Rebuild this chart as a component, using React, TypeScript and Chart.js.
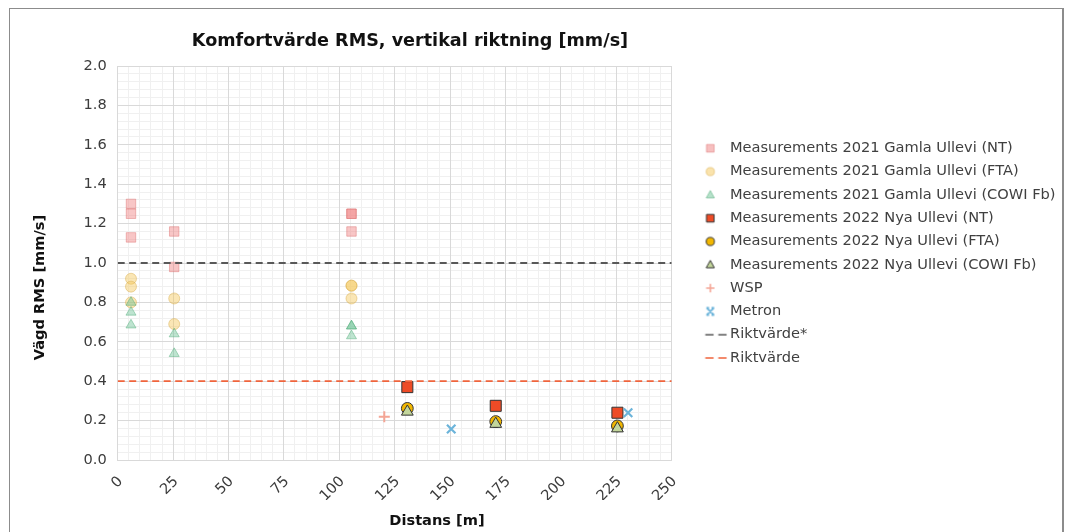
import React, { useEffect, useRef } from 'react';
import { Chart, registerables } from 'chart.js';

Chart.register(...registerables);

// ---------- text ----------
const chartTitle = 'Komfortvärde RMS, vertikal riktning [mm/s]';
const xAxisTitle = 'Distans [m]';
const yAxisTitle = 'Vägd RMS [mm/s]';

const seriesNames = [
  'Measurements 2021 Gamla Ullevi (NT)',
  'Measurements 2021 Gamla Ullevi (FTA)',
  'Measurements 2021 Gamla Ullevi (COWI Fb)',
  'Measurements 2022 Nya Ullevi (NT)',
  'Measurements 2022 Nya Ullevi (FTA)',
  'Measurements 2022 Nya Ullevi (COWI Fb)',
  'WSP',
  'Metron',
  'Riktvärde*',
  'Riktvärde',
];

// ---------- data ----------
const gamlaDistans = [6, 6, 6, 25.5, 25.5, 105.5, 105.5, 105.5];
const gamlaNT = [1.3, 1.25, 1.13, 1.16, 0.98, 1.25, 1.25, 1.16];
const gamlaFTA = [0.92, 0.88, 0.8, 0.82, 0.69, 0.885, 0.885, 0.82];
const gamlaCOWI = [0.8, 0.75, 0.685, 0.64, 0.54, 0.68, 0.68, 0.63];

const nyaDistans = [130.7, 170.6, 225.5];
const nyaNT = [0.37, 0.275, 0.24];
const nyaFTA = [0.262, 0.195, 0.173];
const nyaCOWI = [0.245, 0.183, 0.16];

const wspDistans = [120.3];
const wspValues = [0.22];

const metronDistans = [150.5, 230.3];
const metronValues = [0.157, 0.24];

const riktvardeStar = 1.0;
const riktvarde = 0.4;

// ---------- axes ----------
const xMin = 0;
const xMax = 250;
const xStep = 25;
const xMinorStep = 5;
const yMin = 0;
const yMax = 2.0;
const yStep = 0.2;
const yMinorStep = 0.04;

const FONT = "'DejaVu Sans', Verdana, sans-serif";
const FS = 14.6;

const pts = (xs: number[], ys: number[]) => xs.map((x, i) => ({ x, y: ys[i] }));

type IconSpec = {
  kind: 'rect' | 'circle' | 'triangle' | 'cross' | 'crossRot' | 'dash';
  fill?: string;
  stroke: string;
  lw: number;
};

function makeIcon(spec: IconSpec): HTMLCanvasElement {
  const c = document.createElement('canvas');
  c.width = 60;
  c.height = 16;
  const ctx = c.getContext('2d')!;
  const cx = 38.75;
  const cy = 8;
  ctx.lineWidth = spec.lw;
  ctx.strokeStyle = spec.stroke;
  if (spec.fill) ctx.fillStyle = spec.fill;
  ctx.beginPath();
  switch (spec.kind) {
    case 'rect':
      ctx.rect(cx - 3.8, cy - 3.8, 7.6, 7.6);
      break;
    case 'circle':
      ctx.arc(cx, cy, 4.1, 0, Math.PI * 2);
      break;
    case 'triangle':
      ctx.moveTo(cx, cy - 4.4);
      ctx.lineTo(cx + 4.1, cy + 3);
      ctx.lineTo(cx - 4.1, cy + 3);
      ctx.closePath();
      break;
    case 'cross':
      ctx.moveTo(cx - 4.2, cy);
      ctx.lineTo(cx + 4.2, cy);
      ctx.moveTo(cx, cy - 4.2);
      ctx.lineTo(cx, cy + 4.2);
      break;
    case 'crossRot':
      ctx.moveTo(cx - 3.7, cy - 3.7);
      ctx.lineTo(cx + 3.7, cy + 3.7);
      ctx.moveTo(cx + 3.7, cy - 3.7);
      ctx.lineTo(cx - 3.7, cy + 3.7);
      ctx.moveTo(cx - 3.9, cy - 3.7);
      ctx.lineTo(cx - 1.2, cy - 3.7);
      ctx.moveTo(cx + 1.2, cy - 3.7);
      ctx.lineTo(cx + 3.9, cy - 3.7);
      ctx.moveTo(cx - 3.9, cy + 3.7);
      ctx.lineTo(cx - 1.2, cy + 3.7);
      ctx.moveTo(cx + 1.2, cy + 3.7);
      ctx.lineTo(cx + 3.9, cy + 3.7);
      break;
    case 'dash':
      ctx.setLineDash([8.3, 4.7]);
      ctx.moveTo(cx - 5, cy);
      ctx.lineTo(cx + 16.5, cy);
      break;
  }
  if (spec.fill && spec.kind !== 'dash') ctx.fill();
  ctx.stroke();
  return c;
}

const titlesPlugin = {
  id: 'customTitles',
  afterDraw(chart: any) {
    const { ctx, chartArea: a } = chart;
    ctx.save();
    ctx.textAlign = 'center';
    ctx.textBaseline = 'middle';
    ctx.fillStyle = '#111111';
    ctx.font = `bold 17.6px ${FONT}`;
    ctx.fillText(chartTitle, a.left + 292.3, a.top - 24.5);
    ctx.font = `bold ${FS}px ${FONT}`;
    ctx.fillText(xAxisTitle, a.left + 319.3, a.bottom + 61);
    ctx.translate(a.left - 77.7, a.top + 221.5);
    ctx.rotate(-Math.PI / 2);
    ctx.fillText(yAxisTitle, 0, 0);
    ctx.restore();
  },
};

export default function App() {
  const canvasRef = useRef<HTMLCanvasElement>(null);

  useEffect(() => {
    if (!canvasRef.current) return;

    const icons = [
      makeIcon({ kind: 'rect', fill: 'rgba(240,128,128,0.5)', stroke: 'rgba(220,110,110,0.5)', lw: 1 }),
      makeIcon({ kind: 'circle', fill: 'rgba(245,200,90,0.5)', stroke: 'rgba(215,170,70,0.5)', lw: 1 }),
      makeIcon({ kind: 'triangle', fill: 'rgba(110,195,150,0.5)', stroke: 'rgba(80,170,120,0.5)', lw: 1 }),
      makeIcon({ kind: 'rect', fill: '#ee4b26', stroke: '#333333', lw: 1 }),
      makeIcon({ kind: 'circle', fill: '#f2b700', stroke: '#333333', lw: 1 }),
      makeIcon({ kind: 'triangle', fill: '#c3d69b', stroke: '#333333', lw: 1 }),
      makeIcon({ kind: 'cross', stroke: '#f4a595', lw: 1.6 }),
      makeIcon({ kind: 'crossRot', stroke: '#6cb4da', lw: 1.8 }),
      makeIcon({ kind: 'dash', stroke: '#595959', lw: 1.6 }),
      makeIcon({ kind: 'dash', stroke: '#f0643c', lw: 1.6 }),
    ];

    const baseGen = (Chart as any).defaults.plugins.legend.labels.generateLabels;

    const scatterSets: any[] = [
      {
        label: seriesNames[0],
        data: pts(gamlaDistans, gamlaNT),
        pointStyle: 'rect',
        pointRadius: 6.7,
        backgroundColor: 'rgba(240,128,128,0.45)',
        borderColor: 'rgba(220,110,110,0.45)',
        borderWidth: 1,
      },
      {
        label: seriesNames[1],
        data: pts(gamlaDistans, gamlaFTA),
        pointStyle: 'circle',
        pointRadius: 5.5,
        backgroundColor: 'rgba(245,200,90,0.45)',
        borderColor: 'rgba(215,170,70,0.45)',
        borderWidth: 1,
      },
      {
        label: seriesNames[2],
        data: pts(gamlaDistans, gamlaCOWI),
        pointStyle: 'triangle',
        pointRadius: 5.8,
        backgroundColor: 'rgba(110,195,150,0.45)',
        borderColor: 'rgba(80,170,120,0.45)',
        borderWidth: 1,
      },
      {
        label: seriesNames[3],
        data: pts(nyaDistans, nyaNT),
        pointStyle: 'rect',
        pointRadius: 7.8,
        backgroundColor: '#ee4b26',
        borderColor: '#333333',
        borderWidth: 1,
      },
      {
        label: seriesNames[4],
        data: pts(nyaDistans, nyaFTA),
        pointStyle: 'circle',
        pointRadius: 5.9,
        backgroundColor: '#f2b700',
        borderColor: '#333333',
        borderWidth: 1,
      },
      {
        label: seriesNames[5],
        data: pts(nyaDistans, nyaCOWI),
        pointStyle: 'triangle',
        pointRadius: 6.8,
        backgroundColor: '#c3d69b',
        borderColor: '#333333',
        borderWidth: 1,
      },
      {
        label: seriesNames[6],
        data: pts(wspDistans, wspValues),
        pointStyle: 'cross',
        pointRadius: 5.5,
        backgroundColor: '#f4a595',
        borderColor: '#f4a595',
        borderWidth: 2,
      },
      {
        label: seriesNames[7],
        data: pts(metronDistans, metronValues),
        pointStyle: 'crossRot',
        pointRadius: 6,
        backgroundColor: '#6cb4da',
        borderColor: '#6cb4da',
        borderWidth: 2.2,
      },
      {
        type: 'line',
        label: seriesNames[8],
        data: [
          { x: xMin, y: riktvardeStar },
          { x: xMax, y: riktvardeStar },
        ],
        showLine: true,
        borderColor: '#595959',
        backgroundColor: '#595959',
        borderWidth: 1.8,
        borderDash: [7, 4.5],
        pointRadius: 0,
        fill: false,
      },
      {
        type: 'line',
        label: seriesNames[9],
        data: [
          { x: xMin, y: riktvarde },
          { x: xMax, y: riktvarde },
        ],
        showLine: true,
        borderColor: '#f0643c',
        backgroundColor: '#f0643c',
        borderWidth: 1.8,
        borderDash: [7, 4.5],
        pointRadius: 0,
        fill: false,
      },
    ];
    // later series are drawn on top of earlier ones
    scatterSets.forEach((d, i) => {
      d.order = scatterSets.length - i;
    });

    const chart = new Chart(canvasRef.current, {
      type: 'scatter',
      data: { datasets: scatterSets },
      options: {
        responsive: false,
        animation: false,
        events: [],
        layout: { padding: { left: 67.7, top: 57, right: 0, bottom: 32 } },
        scales: {
          x: {
            type: 'linear',
            position: 'bottom',
            min: xMin,
            max: xMax,
            ticks: {
              stepSize: xStep,
              autoSkip: false,
              minRotation: 45,
              maxRotation: 45,
              padding: 13,
              labelOffset: 3,
              color: '#3c3c3c',
              font: { family: FONT, size: FS },
              callback: (v: any) => String(v),
            },
            grid: { color: '#d9d9d9', drawTicks: false, lineWidth: 1 },
            border: { color: '#d9d9d9' },
            afterFit: (s: any) => {
              s.height = 40;
            },
          },
          xMinor: {
            type: 'linear',
            position: 'bottom',
            min: xMin,
            max: xMax,
            ticks: { display: false, stepSize: xMinorStep, autoSkip: false },
            grid: { color: '#f0f0f0', drawTicks: false, z: -2 },
            border: { display: false },
            afterFit: (s: any) => {
              s.height = 0;
            },
          },
          y: {
            type: 'linear',
            position: 'left',
            min: yMin,
            max: yMax,
            ticks: {
              stepSize: yStep,
              autoSkip: false,
              padding: 11,
              color: '#3c3c3c',
              font: { family: FONT, size: FS },
              callback: (v: any) => Number(v).toFixed(1),
            },
            grid: { color: '#d9d9d9', drawTicks: false, lineWidth: 1 },
            border: { color: '#d9d9d9' },
            afterFit: (s: any) => {
              s.width = 40;
            },
          },
          yMinor: {
            type: 'linear',
            position: 'left',
            min: yMin,
            max: yMax,
            ticks: { display: false, stepSize: yMinorStep, autoSkip: false },
            grid: { color: '#f0f0f0', drawTicks: false, z: -2 },
            border: { display: false },
            afterFit: (s: any) => {
              s.width = 0;
            },
          },
        },
        plugins: {
          title: { display: false },
          tooltip: { enabled: false },
          legend: {
            display: true,
            position: 'right',
            align: 'start',
            fullSize: false,
            maxWidth: 390.3,
            title: {
              display: true,
              text: '',
              padding: { top: 56.3, bottom: 0 },
              font: { size: 10, lineHeight: 1 },
            },
            labels: {
              usePointStyle: true,
              pointStyleWidth: 42.3,
              padding: 8.7,
              color: '#404040',
              font: { family: FONT, size: FS },
              generateLabels: (c: any) =>
                baseGen(c)
                  .map((item: any) => ({
                    ...item,
                    pointStyle: icons[item.datasetIndex],
                    rotation: 0,
                  }))
                  .sort((a: any, b: any) => a.datasetIndex - b.datasetIndex),
            },
          } as any,
        },
      } as any,
      plugins: [titlesPlugin],
    });

    return () => chart.destroy();
  }, []);

  return (
    <div
      style={{
        position: 'absolute',
        left: 9,
        top: 8,
        width: 1055,
        height: 524,
        boxSizing: 'border-box',
        borderTop: '1px solid #8c8c8c',
        borderLeft: '1px solid #8c8c8c',
        borderRight: '2px solid #8c8c8c',
        background: '#ffffff',
      }}
    >
      <canvas ref={canvasRef} width={1052} height={523} style={{ display: 'block' }} />
    </div>
  );
}
